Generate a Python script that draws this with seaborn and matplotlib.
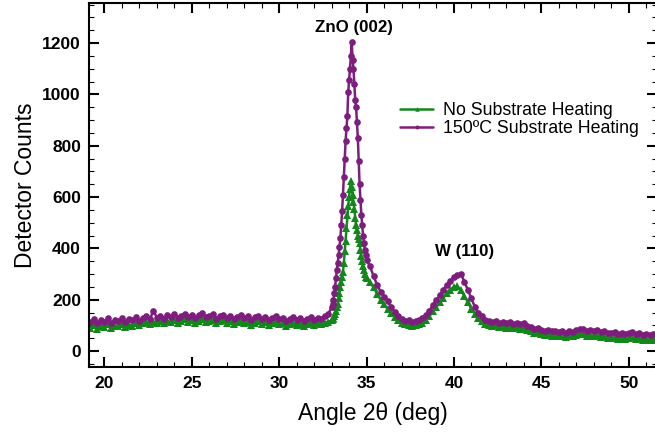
import numpy as np
import pandas as pd
import matplotlib
matplotlib.use("Agg")
import matplotlib.pyplot as plt
from matplotlib.ticker import MultipleLocator
import seaborn as sns

# Scan grid (deg): coarse background, fine step across the ZnO (002) reflection
angle_low = np.linspace(19.2, 32.8, 69)
angle_peak = np.linspace(33.0, 35.0, 41)
angle_high = np.linspace(35.2, 51.6, 83)

# Detector counts, 150 C substrate heating
heated_low = [112, 125, 108, 120, 115, 128, 110, 122, 118, 130,
              114, 126, 121, 133, 119, 128, 135, 124, 158, 130,
              138, 126, 140, 132, 143, 129, 138, 146, 133, 141,
              128, 139, 147, 131, 137, 144, 127, 136, 141, 130,
              138, 125, 134, 140, 128, 135, 122, 131, 137, 126,
              133, 121, 130, 136, 124, 129, 119, 127, 133, 122,
              128, 118, 126, 131, 123, 130, 127, 138, 145]
heated_peak = [170, 185, 200, 225, 250, 285, 315, 345, 375, 405,
               440, 490, 545, 610, 680, 750, 820, 870, 915, 1010,
               1055, 1100, 1148, 1205, 1135, 1100, 1040, 980, 950, 893,
               830, 740, 650, 590, 530, 490, 450, 420, 395, 375,
               355]
heated_high = [330, 292, 258, 232, 212, 196, 172, 152, 138, 126,
               118, 122, 112, 118, 121, 130, 142, 158, 180, 198,
               218, 240, 258, 275, 288, 298, 300, 270, 238, 205,
               172, 150, 135, 122, 116, 112, 118, 110, 114, 108,
               112, 106, 110, 104, 108, 98, 95, 88, 92, 84,
               80, 84, 77, 80, 74, 78, 72, 80, 76, 82,
               86, 88, 80, 84, 78, 82, 75, 79, 72, 70,
               74, 68, 72, 65, 70, 75, 66, 70, 63, 68,
               62, 66, 60]

# Detector counts, no substrate heating
unheated_low = [92, 100, 88, 97, 93, 104, 90, 99, 96, 106,
                95, 103, 99, 110, 101, 108, 113, 104, 115, 110,
                117, 108, 119, 112, 121, 110, 118, 124, 113, 120,
                109, 118, 125, 112, 117, 122, 108, 116, 120, 111,
                117, 106, 114, 119, 108, 114, 103, 111, 116, 106,
                112, 101, 109, 114, 104, 108, 99, 106, 111, 101,
                107, 98, 105, 109, 102, 108, 104, 110, 114]
unheated_peak = [120, 125, 128, 135, 145, 155, 170, 185, 205, 225,
                 250, 270, 290, 310, 345, 390, 430, 480, 530, 565,
                 600, 630, 662, 640, 610, 580, 555, 520, 490, 470,
                 450, 435, 420, 395, 370, 350, 330, 315, 300, 290,
                 285]
unheated_high = [268, 248, 224, 200, 182, 165, 148, 134, 120, 110,
                 104, 100, 96, 100, 104, 110, 122, 136, 155, 172,
                 190, 208, 225, 240, 250, 252, 238, 215, 190, 165,
                 145, 128, 116, 106, 100, 96, 100, 94, 97, 92,
                 95, 90, 93, 87, 90, 82, 78, 72, 75, 68,
                 64, 67, 60, 63, 57, 60, 55, 62, 58, 63,
                 66, 68, 60, 64, 58, 62, 55, 58, 52, 50,
                 54, 48, 52, 46, 50, 54, 47, 50, 44, 48,
                 43, 46, 42]

series_labels = ["No Substrate Heating", "150\u00baC Substrate Heating"]
peak_labels = ["ZnO (002)", "W (110)"]
peak_label_pos = [(34.3, 1262), (40.6, 388)]

x_ticks = [20, 25, 30, 35, 40, 45, 50]
y_ticks = [0, 200, 400, 600, 800, 1000, 1200]

angle = np.concatenate([angle_low, angle_peak, angle_high])
unheated = pd.DataFrame({"angle": angle,
                         "counts": unheated_low + unheated_peak + unheated_high})
heated = pd.DataFrame({"angle": angle,
                       "counts": heated_low + heated_peak + heated_high})

sns.set_theme(style="ticks")
plt.rcParams["font.family"] = ["Liberation Sans", "DejaVu Sans"]
plt.rcParams.update({"text.color": "black", "axes.labelcolor": "black",
                     "xtick.color": "black", "ytick.color": "black",
                     "axes.edgecolor": "black"})

fig = plt.figure(figsize=(6.55, 4.36), dpi=100)
ax = fig.add_axes([0.1363, 0.1576, 0.8670, 0.8348])

green = "#13881a"
purple = "#7d1d7d"

sns.lineplot(data=unheated, x="angle", y="counts", ax=ax, color=green,
             marker="^", markersize=5.4, markeredgewidth=0, linewidth=1.8,
             label=series_labels[0], estimator=None, sort=False)
sns.lineplot(data=heated, x="angle", y="counts", ax=ax, color=purple,
             marker="o", markersize=4.8, markeredgewidth=0, linewidth=1.8,
             label=series_labels[1], estimator=None, sort=False)

ax.set_xlim(19.13, 51.63)
ax.set_ylim(-63, 1355)
ax.set_xticks(x_ticks)
ax.set_yticks(y_ticks)
ax.xaxis.set_minor_locator(MultipleLocator(1))
ax.yaxis.set_minor_locator(MultipleLocator(50))
ax.tick_params(which="both", direction="in", top=True, right=True)
ax.tick_params(which="major", length=7, width=1.5, labelsize=12.5, pad=6)
ax.tick_params(which="minor", length=3.5, width=0.8)
for lbl in ax.get_xticklabels() + ax.get_yticklabels():
    lbl.set_fontweight("bold")
for side in ax.spines.values():
    side.set_linewidth(1.5)

ax.set_xlabel("Angle 2\u03b8 (deg)", fontsize=16.5, labelpad=8)
ax.set_ylabel("Detector Counts", fontsize=16.5, labelpad=4)

for text, (px, py) in zip(peak_labels, peak_label_pos):
    ax.text(px, py, text, ha="center", va="center", fontsize=12.2,
            fontweight="bold")

ax.legend(loc="upper left", bbox_to_anchor=(0.548, 0.728), frameon=False,
          fontsize=12.8, handlelength=1.85, handletextpad=0.55,
          labelspacing=0.05, borderpad=0, borderaxespad=0, markerscale=0.6)

fig.savefig("out.png", dpi=100)
